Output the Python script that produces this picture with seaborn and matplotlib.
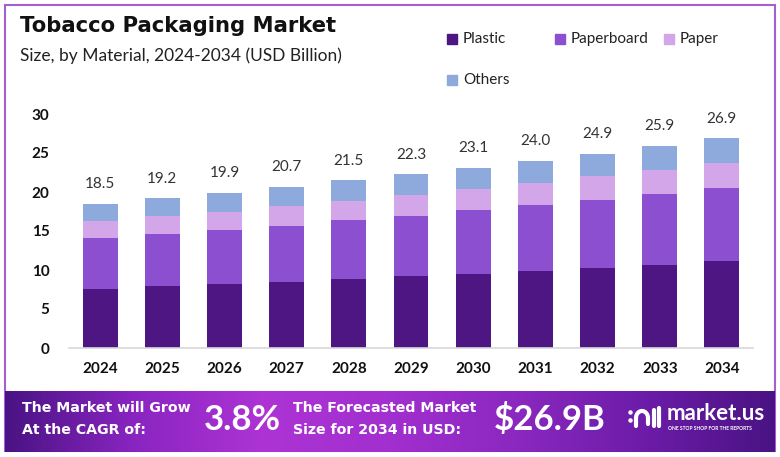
import matplotlib
matplotlib.use("Agg")
import matplotlib.pyplot as plt
from matplotlib.patches import Rectangle
from matplotlib.colors import LinearSegmentedColormap
import numpy as np
import pandas as pd
import seaborn as sns

years = ["2024", "2025", "2026", "2027", "2028", "2029", "2030", "2031", "2032", "2033", "2034"]
plastic = [7.6, 7.95, 8.2, 8.5, 8.85, 9.2, 9.55, 9.9, 10.3, 10.7, 11.1]
paperboard = [6.5, 6.7, 6.95, 7.2, 7.55, 7.75, 8.1, 8.4, 8.7, 9.0, 9.35]
paper = [2.2, 2.25, 2.3, 2.5, 2.5, 2.65, 2.7, 2.85, 3.0, 3.1, 3.25]
others = [2.2, 2.3, 2.45, 2.5, 2.6, 2.7, 2.75, 2.85, 2.9, 3.1, 3.2]
series = ["Plastic", "Paperboard", "Paper", "Others"]
colors = ["#4e1682", "#8c4fcf", "#d3a6ea", "#8eaadd"]

df = pd.DataFrame({"year": years, "Plastic": plastic, "Paperboard": paperboard,
                   "Paper": paper, "Others": others})
cum = df[series].cumsum(axis=1)
df["total"] = cum["Others"]

sns.set_theme(style="white")
plt.rcParams["font.family"] = ["Lato", "DejaVu Sans"]
wide = ["DejaVu Sans"]

W, H = 780, 457
fig = plt.figure(figsize=(7.8, 4.57), dpi=100)

# background overlay in pixel coords
bg = fig.add_axes([0, 0, 1, 1])
bg.axis("off")
bg.add_patch(Rectangle((5, 5), 770, 446, fill=False, edgecolor="#a45fd3", lw=1.5))

# banner gradient
cmap = LinearSegmentedColormap.from_list("ban", ["#4a1384", "#8a25c2", "#ad33d4", "#a22fcf", "#8a28bf", "#6c1ca8", "#4a1384"])
grad = np.linspace(0, 1, 400).reshape(1, -1)
bg.imshow(grad, cmap=cmap, aspect="auto", extent=(5, 775, 452, 391), zorder=2)
bg.set_xlim(0, W)
bg.set_ylim(H, 0)

bg.text(20, 26, "Tobacco Packaging Market", fontsize=15.2, fontweight="bold", family=wide,
        color="#111111", va="center")
bg.text(20, 56, "Size, by Material, 2024-2034 (USD Billion)", fontsize=12.5, color="#222222", va="center")

# legend
leg_pos = [(447, 39), (555, 39), (664, 39), (447, 80)]
for (lx, ly), name, c in zip(leg_pos, series, colors):
    bg.add_patch(Rectangle((lx, ly - 5), 10, 10, color=c))
    bg.text(lx + 16, ly, name, fontsize=11, color="#222222", va="center")

# banner texts
kw = dict(fontweight="bold", color="white", va="center", zorder=3)
bg.text(22, 408, "The Market will Grow", fontsize=10.2, family=wide, **kw)
bg.text(22, 430, "At the CAGR of:", fontsize=10.2, family=wide, **kw)
bg.text(204, 420, "3.8%", fontsize=25, **kw)
bg.text(293, 408, "The Forecasted Market", fontsize=10.2, family=wide, **kw)
bg.text(293, 430, "Size for 2034 in USD:", fontsize=10.2, family=wide, **kw)
bg.text(494, 420, "$26.9B", fontsize=25, **kw)
bg.text(667, 414, "market.us", fontsize=16, **kw)
bg.text(668, 429, "ONE STOP SHOP FOR THE REPORTS", fontsize=3.6, **kw)
# simple logo mark
t = np.linspace(np.pi, 0, 30)
bg.plot(642 + 6 * np.cos(t), 418 - 7 * np.sin(t), color="white", lw=3, zorder=3, solid_capstyle="round")
bg.plot([636, 636], [418, 426], color="white", lw=3, zorder=3, solid_capstyle="round")
bg.plot([648, 648], [418, 424], color="white", lw=3, zorder=3)
bg.plot([654, 654], [410, 426], color="white", lw=3, zorder=3, solid_capstyle="round")
bg.plot([659, 659], [408, 426], color="white", lw=3, zorder=3, solid_capstyle="round")
bg.plot([630, 630], [412, 420], "o", color="white", ms=2.2, zorder=3)

# main chart
ax = fig.add_axes([69 / W, 1 - 348 / H, (753 - 69) / W, (348 - 114) / H])
layers = ["Others", "Paper", "Paperboard", "Plastic"]
for name in layers:
    c = colors[series.index(name)]
    sns.barplot(x=df["year"], y=cum[name], color=c, width=0.56, ax=ax,
                saturation=1, edgecolor="none")

for i, tot in enumerate(df["total"]):
    ax.annotate(f"{tot:.1f}", (i, tot), xytext=(0, 9), textcoords="offset points",
                ha="center", va="bottom", fontsize=11, color="#333333")

ax.set_ylim(0, 30)
ax.set_xlim(-0.5, 10.5)
ax.set_yticks([0, 5, 10, 15, 20, 25, 30])
ax.set_xlabel("")
ax.set_ylabel("")
ax.tick_params(axis="y", length=0, pad=14, labelsize=11)
ax.tick_params(axis="x", length=0, pad=10, labelsize=11)
for lab in ax.get_xticklabels() + ax.get_yticklabels():
    lab.set_fontweight("bold")
    lab.set_color("#111111")
for s in ["top", "right", "left"]:
    ax.spines[s].set_visible(False)
ax.spines["bottom"].set_color("#d8d8d8")
ax.spines["bottom"].set_linewidth(1.2)
ax.patch.set_alpha(0)

fig.savefig("out.png", dpi=100)
